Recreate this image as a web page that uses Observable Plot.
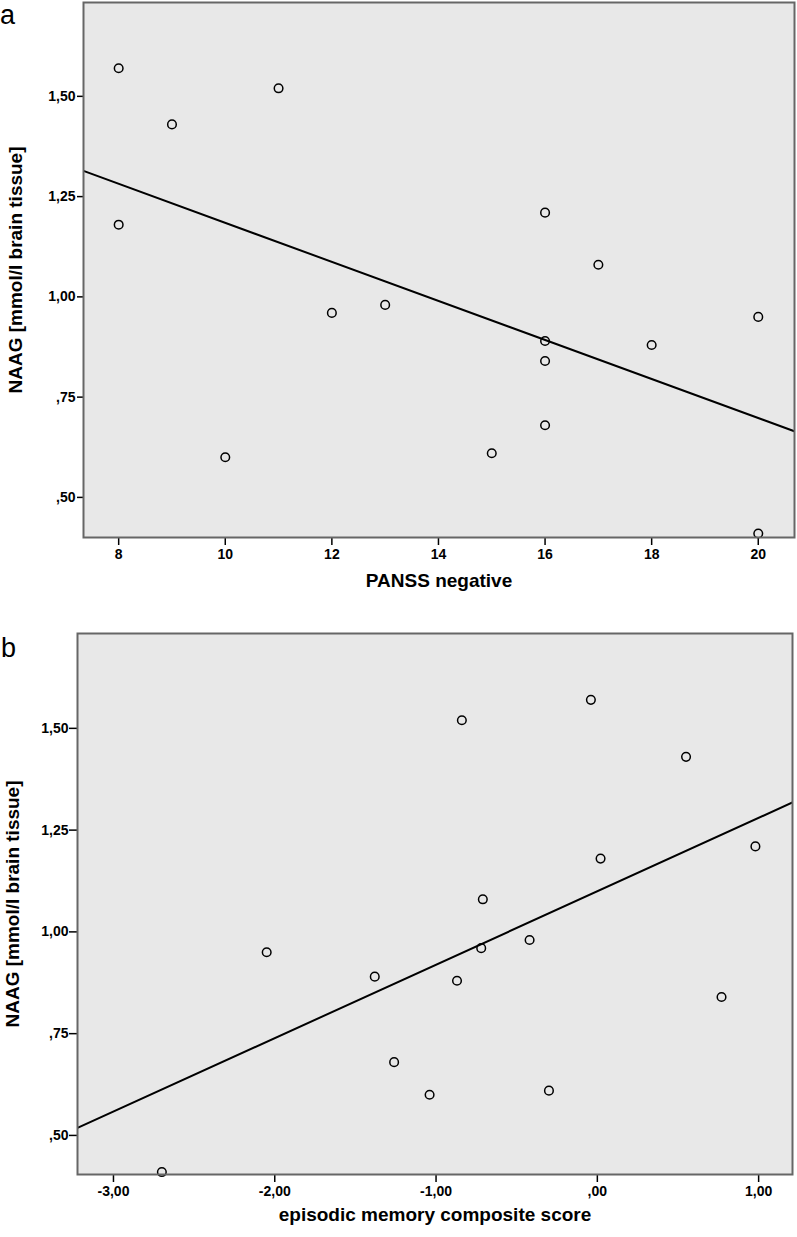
<!DOCTYPE html>
<html><head><meta charset="utf-8">
<script src="https://cdn.jsdelivr.net/npm/d3@7"></script>
<script src="https://cdn.jsdelivr.net/npm/@observablehq/plot@0.6"></script>
<style>
body{margin:0;background:#fff;font-family:"Liberation Sans",Arial,sans-serif;}
#wrap{position:relative;width:797px;height:1237px;overflow:hidden;}
.plabel{position:absolute;font-size:27px;line-height:1.15;color:#000;font-family:"Liberation Sans",Arial,sans-serif;}
.panel{position:absolute;left:0;}
</style></head><body>
<div id="wrap">
  <div id="pa" class="panel" style="top:0"></div>
  <div id="pb" class="panel" style="top:615px"></div>
  <div class="plabel" style="left:0px;top:0px">a</div>
  <div class="plabel" style="left:1px;top:633px">b</div>
</div>
<script>
// NAAG per subject (mmol/l brain tissue)
const naag = [1.57, 1.18, 1.43, 0.60, 1.52, 0.96, 0.98, 0.61, 1.21, 0.89, 0.84, 0.68, 1.08, 0.88, 0.95, 0.41];
// PANSS negative per subject
const panssNegative = [8, 8, 9, 10, 11, 12, 13, 15, 16, 16, 16, 16, 17, 18, 20, 20];
// episodic memory composite score per subject
const memoryScore = [-0.04, 0.02, 0.55, -1.04, -0.84, -0.72, -0.42, -0.30, 0.98, -1.38, 0.77, -1.26, -0.71, -0.87, -2.05, -2.70];

const panssTicks = [8, 10, 12, 14, 16, 18, 20];
const memoryTicks = [-3, -2, -1, 0, 1];
const naagTicks = [0.5, 0.75, 1.0, 1.25, 1.5];

const fmtComma = d => d.toFixed(2).replace(".", ",").replace(/^(-?)0,/, "$1,");

function fit(xs, ys) {
  const mx = d3.mean(xs), my = d3.mean(ys);
  const b = d3.sum(xs, (x, i) => (x - mx) * (ys[i] - my)) / d3.sum(xs, x => (x - mx) ** 2);
  return [my - b * mx, b];
}

function panel(cfg) {
  const data = cfg.xs.map((x, i) => ({x, y: cfg.ys[i]}));
  const [a, b] = fit(cfg.xs, cfg.ys);
  const reg = cfg.xDomain.map(x => ({x, y: a + b * x}));
  return Plot.plot({
    width: 797,
    height: cfg.height,
    marginLeft: cfg.mL, marginRight: cfg.mR, marginTop: cfg.mT, marginBottom: cfg.mB,
    style: {fontFamily: '"Liberation Sans", Arial, sans-serif', fontSize: "14px", fontWeight: "bold", color: "#000", background: "transparent"},
    x: {domain: cfg.xDomain},
    y: {domain: cfg.yDomain},
    marks: [
      Plot.frame({fill: "#e8e8e8"}),
      Plot.axisY({ticks: naagTicks, tickFormat: fmtComma, tickSize: cfg.yTickSize, tickPadding: cfg.yTickPad, label: null, strokeWidth: 1.5}),
      Plot.axisX({ticks: cfg.xTicks, tickFormat: cfg.xFormat, tickSize: 8, tickPadding: 4, label: null, strokeWidth: 1.5}),
      Plot.line(reg, {x: "x", y: "y", stroke: "#000", strokeWidth: 2, clip: true}),
      Plot.dot(data, {x: "x", y: "y", r: 4.3, stroke: "#000", strokeWidth: 1.5, fill: "none"}),
      Plot.frame({stroke: "#666", strokeWidth: 2}),
      Plot.text([cfg.yLabel], {text: d => d, frameAnchor: "left", rotate: -90, textAnchor: "middle", dx: cfg.yLabelDx, fontSize: 19, fontWeight: "bold", fill: "#000"}),
      Plot.text([cfg.xLabel], {text: d => d, frameAnchor: "bottom", textAnchor: "middle", dy: cfg.xLabelDy, fontSize: 19, fontWeight: "bold", fill: "#000"})
    ]
  });
}

document.getElementById("pa").append(panel({
  xs: panssNegative, ys: naag,
  xDomain: [7.34, 20.68], yDomain: [0.40, 1.734],
  xTicks: panssTicks, xFormat: d => String(d),
  height: 615, mL: 83, mR: 3, mT: 2, mB: 78,
  yTickSize: 6, yTickPad: 2,
  yLabel: "NAAG [mmol/l brain tissue]", yLabelDx: -68,
  xLabel: "PANSS negative", xLabelDy: 49
}));

document.getElementById("pb").append(panel({
  xs: memoryScore, ys: naag,
  xDomain: [-3.223, 1.21], yDomain: [0.404, 1.733],
  xTicks: memoryTicks, xFormat: fmtComma,
  height: 622, mL: 77, mR: 5, mT: 18, mB: 63,
  yTickSize: 8, yTickPad: 1,
  yLabel: "NAAG [mmol/l brain tissue]", yLabelDx: -64.5,
  xLabel: "episodic memory composite score", xLabelDy: 46
}));
</script>
</body></html>
